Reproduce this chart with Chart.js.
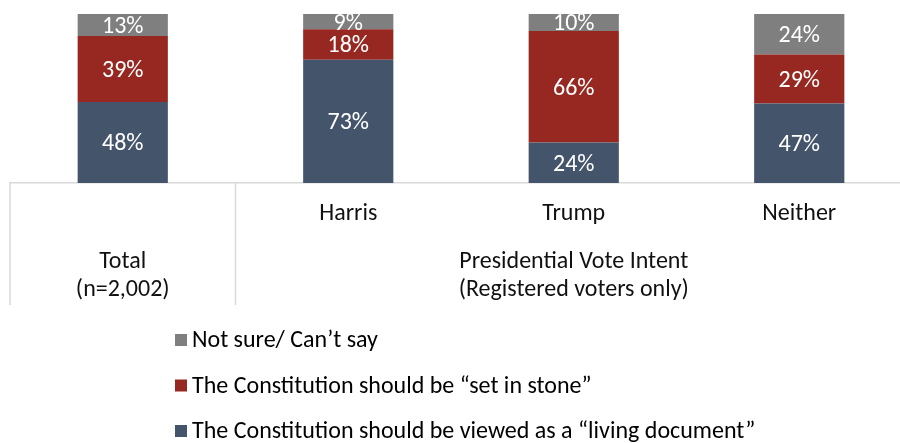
<!DOCTYPE html>
<html>
<head>
<meta charset="utf-8">
<script src="https://cdn.jsdelivr.net/npm/chart.js@4/dist/chart.umd.min.js"></script>
<style>
  html, body { margin: 0; padding: 0; background: #fff; overflow: hidden; }
  #wrap { width: 900px; height: 443px; overflow: hidden; }
  canvas { display: block; }
</style>
</head>
<body>
<div id="wrap"><canvas id="constChart" width="912" height="443"></canvas></div>
<script>
// 카테고리 / 그룹 라벨
const categories = ['', 'Harris', 'Trump', 'Neither'];
const groups = [
  { label: ['Total', '(n=2,002)'], from: 0, to: 0 },
  { label: ['Presidential Vote Intent', '(Registered voters only)'], from: 1, to: 3 }
];

// 시리즈 값 (%)
const livingDoc = [48, 73, 24, 47];
const setInStone = [39, 18, 66, 29];
const notSure = [13, 9, 10, 24];

const seriesNames = [
  'The Constitution should be viewed as a \u201cliving document\u201d',
  'The Constitution should be \u201cset in stone\u201d',
  'Not sure/ Can\u2019t say'
];
const seriesColors = ['#44546a', '#962821', '#7f7f7f'];

const FONT = 'Calibri, Carlito, Lato, sans-serif';
const FSIZE = 24;
const GRID = '#d9d9d9';

// 막대 안 값 라벨
const valueLabels = {
  id: 'valueLabels',
  afterDatasetsDraw(chart) {
    const { ctx, chartArea } = chart;
    ctx.save();
    ctx.beginPath();
    ctx.rect(chartArea.left, chartArea.top, chartArea.right - chartArea.left, chartArea.bottom - chartArea.top);
    ctx.clip();
    ctx.fillStyle = '#ffffff';
    ctx.font = FSIZE + 'px ' + FONT;
    ctx.textAlign = 'center';
    ctx.textBaseline = 'middle';
    chart.data.datasets.forEach((ds, i) => {
      chart.getDatasetMeta(i).data.forEach((bar, j) => {
        const p = bar.getCenterPoint();
        ctx.fillText(ds.data[j] + '%', p.x, p.y + 2);
      });
    });
    ctx.restore();
  }
};

// 그룹 라벨, 구분선, 범례
const groupAxis = {
  id: 'groupAxis',
  afterDraw(chart) {
    const { ctx, chartArea, scales } = chart;
    const x = scales.x;
    const step = x.getPixelForValue(1) - x.getPixelForValue(0);
    ctx.save();

    // 구분선
    ctx.strokeStyle = GRID;
    ctx.lineWidth = 1.5;
    groups.forEach(g => {
      const lx = x.getPixelForValue(g.from) - step / 2;
      ctx.beginPath();
      ctx.moveTo(lx, chartArea.bottom);
      ctx.lineTo(lx, chartArea.bottom + 122);
      ctx.stroke();
    });

    // 2단계 라벨
    ctx.fillStyle = '#111111';
    ctx.font = FSIZE + 'px ' + FONT;
    ctx.textAlign = 'center';
    ctx.textBaseline = 'middle';
    groups.forEach(g => {
      const cx = (x.getPixelForValue(g.from) + x.getPixelForValue(g.to)) / 2;
      g.label.forEach((t, k) => ctx.fillText(t, cx, chartArea.bottom + 79 + k * 28));
    });

    // 범례 (세로)
    const order = [2, 1, 0];
    ctx.textAlign = 'left';
    order.forEach((di, k) => {
      const y = 340 + k * 45.5;
      ctx.fillStyle = chart.data.datasets[di].backgroundColor;
      ctx.fillRect(175, y - 6, 12, 12);
      ctx.fillStyle = '#000000';
      ctx.fillText(chart.data.datasets[di].label, 192, y + 1);
    });
    ctx.restore();
  }
};

new Chart(document.getElementById('constChart'), {
  type: 'bar',
  data: {
    labels: categories,
    datasets: [
      { label: seriesNames[0], data: livingDoc, backgroundColor: seriesColors[0] },
      { label: seriesNames[1], data: setInStone, backgroundColor: seriesColors[1] },
      { label: seriesNames[2], data: notSure, backgroundColor: seriesColors[2] }
    ]
  },
  options: {
    responsive: false,
    animation: false,
    layout: { padding: { left: 10, top: 14, right: 0, bottom: 0 } },
    datasets: { bar: { barPercentage: 0.4, categoryPercentage: 1, borderWidth: 0 } },
    plugins: {
      legend: { display: false },
      tooltip: { enabled: false }
    },
    scales: {
      x: {
        stacked: true,
        grid: { display: false, drawTicks: false },
        border: { display: true, color: GRID, width: 1.5 },
        ticks: { color: '#111111', padding: 17, font: { family: FONT, size: FSIZE } },
        afterFit(s) { s.height = 260; }
      },
      y: {
        stacked: true,
        display: false,
        min: 0,
        max: 100
      }
    }
  },
  plugins: [valueLabels, groupAxis]
});
</script>
</body>
</html>
